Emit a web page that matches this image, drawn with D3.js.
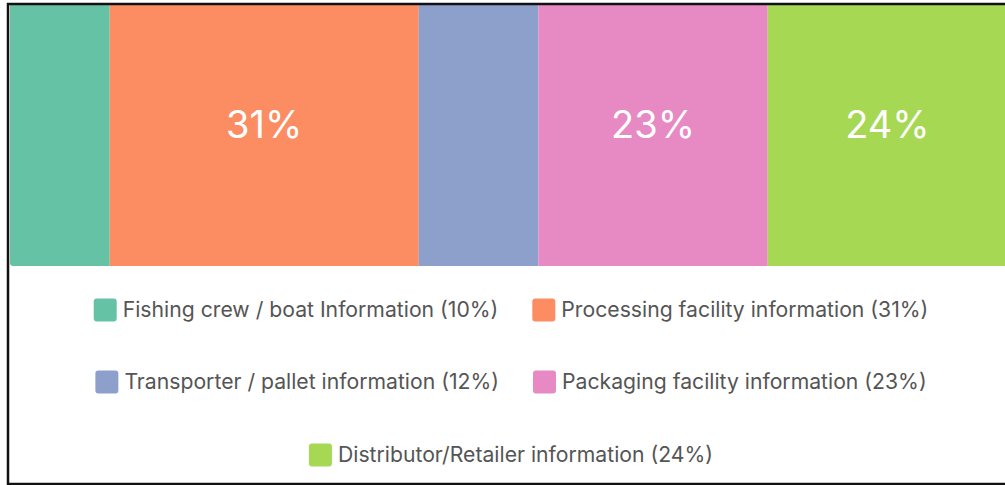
<!DOCTYPE html>
<html>
<head>
<meta charset="utf-8">
<script src="https://cdn.jsdelivr.net/npm/d3@7"></script>
<style>
  html, body { margin: 0; padding: 0; background: #fff; }
  svg { display: block; }
</style>
</head>
<body>
<svg id="chart" width="1005" height="485"></svg>
<script>
// Share of traceability information by supply-chain stage
const categories = [
  "Fishing crew / boat Information",
  "Processing facility information",
  "Transporter / pallet information",
  "Packaging facility information",
  "Distributor/Retailer information"
];
const values = [10, 31, 12, 23, 24];
const colors = ["#66c2a5", "#fc8d62", "#8da0cb", "#e78ac3", "#a6d854"];
const legendRows = [[0, 1], [2, 3], [4]];

const svg = d3.select("#chart");
const W = 1005, H = 485;
const FONT = "Inter, 'Open Sans', sans-serif";

const bar = { x0: 10, x1: 1007, y0: 5, y1: 266 };

// cumulative stack
const total = d3.sum(values);
let acc = 0;
const stacked = values.map((v, i) => {
  const s = { i, v, start: acc, end: acc + v };
  acc += v;
  return s;
});

const x = d3.scaleLinear().domain([0, total]).range([bar.x0, bar.x1]);

// clip so the outer bar gets a small rounded corner
svg.append("defs").append("clipPath").attr("id", "barClip")
  .append("rect")
  .attr("x", bar.x0).attr("y", bar.y0 - 10)
  .attr("width", bar.x1 - bar.x0 + 10).attr("height", bar.y1 - bar.y0 + 10)
  .attr("rx", 3).attr("ry", 3);

const g = svg.append("g").attr("clip-path", "url(#barClip)");
g.selectAll("rect.seg")
  .data(stacked)
  .join("rect")
  .attr("class", "seg")
  .attr("x", d => x(d.start))
  .attr("y", bar.y0)
  .attr("width", d => x(d.end) - x(d.start))
  .attr("height", bar.y1 - bar.y0)
  .attr("fill", d => colors[d.i]);

// value labels only on segments wide enough to hold them
svg.selectAll("text.val")
  .data(stacked.filter(d => d.v >= 20))
  .join("text")
  .attr("class", "val")
  .attr("x", d => (x(d.start) + x(d.end)) / 2)
  .attr("y", 125)
  .attr("dy", "0.35em")
  .attr("text-anchor", "middle")
  .attr("fill", "#fff")
  .style("font-family", FONT)
  .style("font-size", "38px")
  .text(d => d.v + "%");

// legend
const rowY = [310, 382, 455];
const sw = 23, gapSwatch = 6, gapItem = 34, centerX = 511;
legendRows.forEach((row, r) => {
  const rowG = svg.append("g");
  const items = row.map(i => {
    const ig = rowG.append("g");
    ig.append("rect")
      .attr("width", sw).attr("height", sw)
      .attr("y", rowY[r] - sw / 2)
      .attr("rx", 3).attr("ry", 3)
      .attr("fill", colors[i]);
    const t = ig.append("text")
      .attr("x", sw + gapSwatch)
      .attr("y", rowY[r])
      .attr("dy", "0.35em")
      .attr("fill", "#555")
      .style("font-family", FONT)
      .style("font-size", "21.2px")
      .text(`${categories[i]} (${values[i]}%)`);
    return { ig, w: sw + gapSwatch + t.node().getComputedTextLength() };
  });
  const rowW = d3.sum(items, d => d.w) + gapItem * (items.length - 1);
  let cx = centerX - rowW / 2;
  items.forEach(it => {
    it.ig.attr("transform", `translate(${cx},0)`);
    cx += it.w + gapItem;
  });
});

// outer frame
svg.append("path")
  .attr("d", `M${W + 5},4 H8 V484 H${W + 5}`)
  .attr("fill", "none")
  .attr("stroke", "#111")
  .attr("stroke-width", 2.5);
</script>
</body>
</html>
